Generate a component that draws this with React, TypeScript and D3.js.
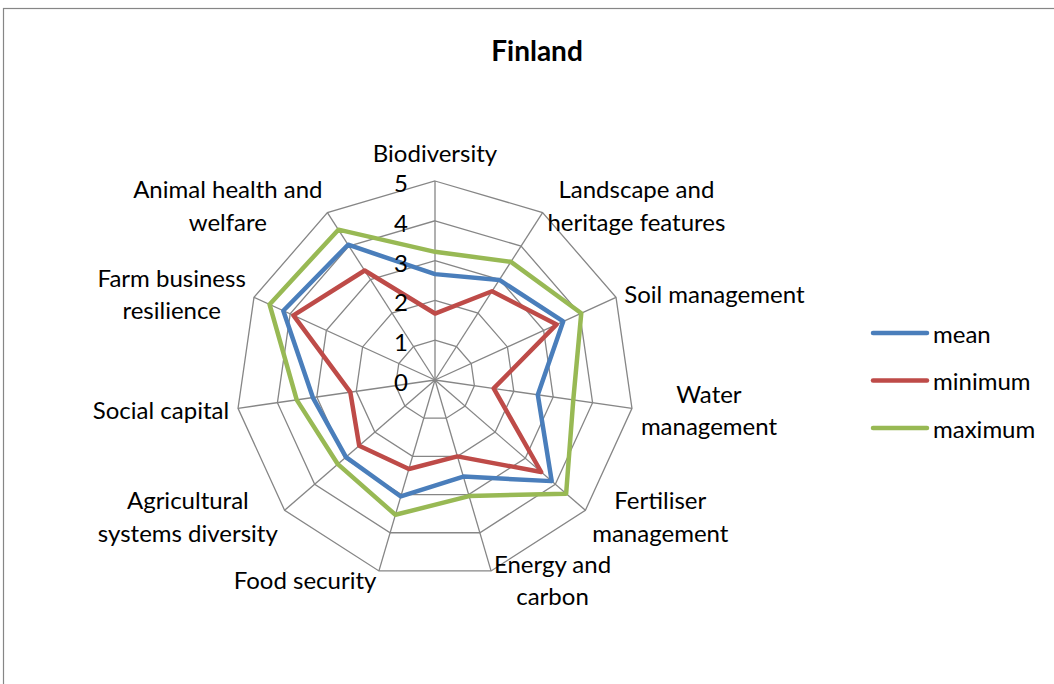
import React from "react";
import * as d3 from "d3";

const title = "Finland";
const categories = [
  "Biodiversity",
  "Landscape and\nheritage features",
  "Soil management",
  "Water\nmanagement",
  "Fertiliser\nmanagement",
  "Energy and\ncarbon",
  "Food security",
  "Agricultural\nsystems diversity",
  "Social capital",
  "Farm business\nresilience",
  "Animal health and\nwelfare",
];
const meanValues = [2.66, 2.99, 3.54, 2.61, 3.88, 2.53, 3.05, 2.96, 3.1, 4.19, 4.04];
const minimumValues = [1.67, 2.65, 3.36, 1.49, 3.53, 2.0, 2.33, 2.52, 2.15, 3.91, 3.27];
const maximumValues = [3.22, 3.53, 4.04, 3.51, 4.36, 3.04, 3.53, 3.23, 3.51, 4.57, 4.49];
const tickValues = [0, 1, 2, 3, 4, 5];
const seriesNames = ["mean", "minimum", "maximum"];
const seriesColors = ["#4A7EBB", "#BE4B48", "#98B954"];

const W = 1054;
const H = 684;
const CX = 435;
const CY = 380;
const R = 199;
const FONT = "Lato, Carlito, Calibri, sans-serif";
const FS = 24;

let ctx: CanvasRenderingContext2D | null = null;
function measure(s: string, size: number): number {
  if (!ctx && typeof document !== "undefined") {
    ctx = document.createElement("canvas").getContext("2d");
  }
  if (!ctx) return s.length * size * 0.5;
  ctx.font = `${size}px Lato`;
  return ctx.measureText(s).width;
}

export default function App() {
  const series = [meanValues, minimumValues, maximumValues];
  const n = categories.length;
  const rScale = d3.scaleLinear().domain([0, 5]).range([0, R]);
  const aScale = d3.scaleLinear().domain([0, n]).range([0, 2 * Math.PI]);
  const pt = (i: number, v: number): [number, number] => {
    const a = aScale(i);
    return [CX + Math.sin(a) * rScale(v), CY - Math.cos(a) * rScale(v)];
  };
  const closed = d3.line<[number, number]>().curve(d3.curveLinearClosed);

  return (
    <svg
      width={W}
      height={H}
      style={{ position: "absolute", left: 0, top: 0, display: "block", background: "#fff" }}
      fontFamily={FONT}
    >
      <rect x={3.5} y={8.5} width={1200} height={800} fill="#fff" stroke="#868686" strokeWidth={1.2} />
      <text x={537} y={50} textAnchor="middle" dominantBaseline="central" fontSize={28} fontWeight="bold" fill="#000">
        {title}
      </text>

      {tickValues.slice(1).map((t) => (
        <path
          key={"ring" + t}
          d={closed(d3.range(n).map((i) => pt(i, t))) || ""}
          fill="none"
          stroke="#868686"
          strokeWidth={1.3}
        />
      ))}
      {d3.range(n).map((i) => {
        const [x, y] = pt(i, 5);
        return <line key={"sp" + i} x1={CX} y1={CY} x2={x} y2={y} stroke="#868686" strokeWidth={1.3} />;
      })}

      {series.map((vals, si) => (
        <path
          key={"s" + si}
          d={closed(vals.map((v, i) => pt(i, v))) || ""}
          fill="none"
          stroke={seriesColors[si]}
          strokeWidth={4.5}
          strokeLinejoin="round"
        />
      ))}

      {tickValues.map((t) => (
        <text
          key={"t" + t}
          x={CX - 27}
          y={CY - rScale(t) + 1.5}
          textAnchor="end"
          dominantBaseline="central"
          fontSize={FS}
          fill="#000"
        >
          {t}
        </text>
      ))}

      {categories.map((c, i) => {
        const a = aScale(i);
        const dx = Math.sin(a);
        const dy = -Math.cos(a);
        const [vx, vy] = pt(i, 5);
        const ax = vx + dx * 9;
        const ay = vy + dy * 9;
        const lines = c.split("\n");
        const lh = 32.5;
        const bw = Math.max(...lines.map((l) => measure(l, FS)));
        let bx = ax;
        if (dx > 0.05) bx = ax + bw / 2;
        else if (dx < -0.05) bx = ax - bw / 2;
        let cy = ay;
        if (Math.abs(dx) <= 0.05) cy = ay - (lines.length * lh) / 2 - 3.5;
        return (
          <text key={"c" + i} textAnchor="middle" fontSize={FS} fill="#000">
            {lines.map((l, li) => (
              <tspan
                key={li}
                x={bx}
                y={cy + (li - (lines.length - 1) / 2) * lh}
                dominantBaseline="central"
              >
                {l}
              </tspan>
            ))}
          </text>
        );
      })}

      {seriesNames.map((s, si) => {
        const y = 333 + si * 47.5;
        return (
          <g key={"lg" + si}>
            <line x1={873} x2={927} y1={y} y2={y} stroke={seriesColors[si]} strokeWidth={4.5} strokeLinecap="round" />
            <text x={933} y={y} dominantBaseline="central" fontSize={FS} fill="#000">
              {s}
            </text>
          </g>
        );
      })}
    </svg>
  );
}
